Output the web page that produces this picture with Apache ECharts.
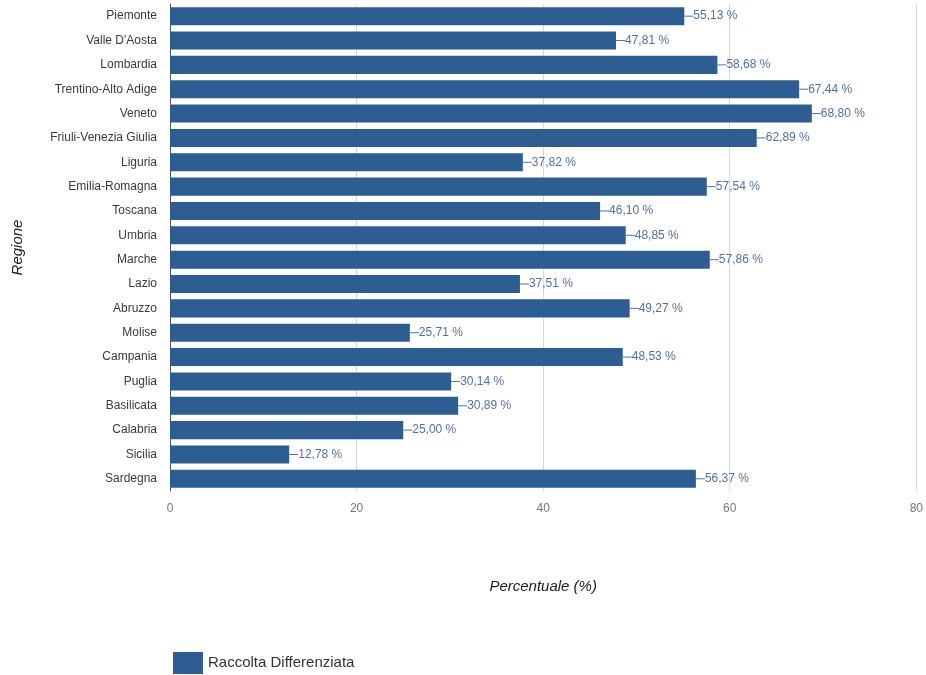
<!DOCTYPE html>
<html>
<head>
<meta charset="utf-8">
<script src="https://cdn.jsdelivr.net/npm/echarts@6/dist/echarts.min.js"></script>
<style>html,body{margin:0;padding:0;background:#fff}#c{width:926px;height:675px}</style>
</head>
<body>
<div id="c"></div>
<script>
const categories = ["Piemonte","Valle D'Aosta","Lombardia","Trentino-Alto Adige","Veneto","Friuli-Venezia Giulia","Liguria","Emilia-Romagna","Toscana","Umbria","Marche","Lazio","Abruzzo","Molise","Campania","Puglia","Basilicata","Calabria","Sicilia","Sardegna"];
const values = [55.13,47.81,58.68,67.44,68.80,62.89,37.82,57.54,46.10,48.85,57.86,37.51,49.27,25.71,48.53,30.14,30.89,25.00,12.78,56.37];
const seriesName = "Raccolta Differenziata";
const xTicks = [0,20,40,60,80];

const FONT = "'Liberation Sans Narrow','Arial Narrow','Liberation Sans',Arial,sans-serif";
const chart = echarts.init(document.getElementById('c'));
chart.setOption({
  animation: false,
  textStyle: {fontFamily: FONT},
  grid: {left: 170, right: 8, top: 4, bottom: 184, containLabel: false},
  legend: {
    left: 168, top: 647, itemWidth: 30, itemHeight: 22, itemGap: 10,
    icon: 'rect',
    textStyle: {fontFamily: FONT, fontSize: 15, color: '#333'},
    data: [seriesName]
  },
  xAxis: {
    type: 'value', min: xTicks[0], max: xTicks[xTicks.length-1], interval: 20,
    name: 'Percentuale (%)', nameLocation: 'middle', nameGap: 88,
    nameTextStyle: {fontStyle: 'italic', fontSize: 15, color: '#222', fontFamily: FONT},
    axisLine: {show: false},
    axisTick: {show: false},
    axisLabel: {color: '#777', fontSize: 12, margin: 12, fontFamily: FONT},
    splitLine: {show: true, lineStyle: {color: '#d8d8d8', width: 1}}
  },
  yAxis: {
    type: 'category', data: categories, inverse: true,
    name: 'Regione', nameLocation: 'middle', nameGap: 145, nameRotate: 90,
    nameTextStyle: {fontStyle: 'italic', fontSize: 15, color: '#222', fontFamily: 'Liberation Sans, Arial, sans-serif'},
    axisLine: {show: true, lineStyle: {color: '#555', width: 1}},
    axisTick: {show: false},
    axisLabel: {color: '#3a3a3a', fontSize: 12, margin: 13, fontFamily: FONT}
  },
  series: [{
    name: seriesName, type: 'bar', data: values,
    barCategoryGap: '26%',
    itemStyle: {color: '#2e5e91'},
    label: {
      show: true, position: 'right', distance: 0,
      fontFamily: FONT, fontSize: 12, color: '#55719b',
      formatter: p => '{ln|}' + p.value.toFixed(2).replace('.', ',') + ' %',
      rich: {
        ln: {width: 9, height: 1, backgroundColor: '#55719b', padding: 0}
      }
    }
  }]
});
</script>
</body>
</html>
